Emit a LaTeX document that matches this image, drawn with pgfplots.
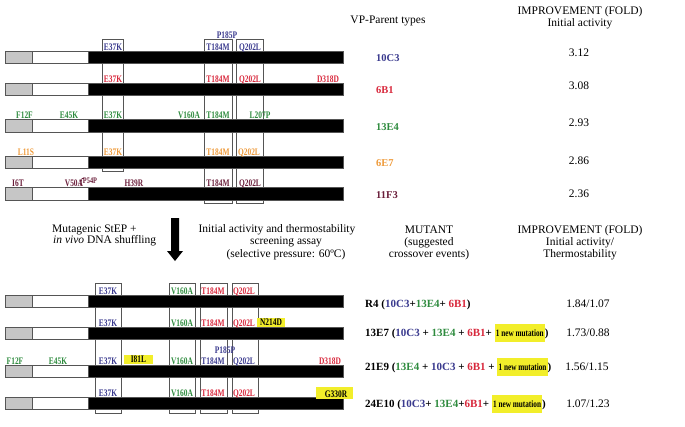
\documentclass[border=0pt]{standalone}
\usepackage{pgfplots}
\pgfplotsset{compat=1.18}
\usepackage{fontspec}
\setmainfont{Liberation Serif}
\definecolor{cblue}{HTML}{3A3A8E}
\definecolor{cred}{HTML}{D8283C}
\definecolor{cgreen}{HTML}{2E8B3E}
\definecolor{corange}{HTML}{EE9A3A}
\definecolor{cmaroon}{HTML}{6A1E3A}
\definecolor{hl}{HTML}{F2EE2A}
\definecolor{edge}{HTML}{555555}
% gene bar: #1 top, #2 bottom
\newcommand\gene[2]{%
 \addplot[fill=gray!45, draw=edge, line width=0.9pt] coordinates {(5,#1)(32,#1)(32,#2)(5,#2)} -- cycle;
 \addplot[fill=white, draw=edge, line width=0.9pt] coordinates {(32,#1)(88,#1)(88,#2)(32,#2)} -- cycle;
 \addplot[fill=black, draw=edge, line width=0.9pt] coordinates {(88,#1)(343,#1)(343,#2)(88,#2)} -- cycle;}
% selection box: x1 x2 y1 y2
\newcommand\selbox[4]{%
 \addplot[draw=edge, line width=0.8pt] coordinates {(#1,#3)(#2,#3)(#2,#4)(#1,#4)} -- cycle;}
\newcommand\hlbox[4]{%
 \addplot[fill=hl, draw=none] coordinates {(#1,#3)(#2,#3)(#2,#4)(#1,#4)} -- cycle;}
\newcommand\gl[1]{\scalebox{0.93}[1.25]{#1}}
\tikzset{
 glab/.style={anchor=base, inner sep=0pt, font=\fontsize{8}{8}\selectfont\bfseries},
 txt/.style={anchor=base, inner sep=0pt, font=\fontsize{11.5}{12}\selectfont},
 pname/.style={anchor=base west, inner sep=0pt, font=\fontsize{10.5}{11}\selectfont\bfseries},
 mut/.style={anchor=base west, inner sep=0pt, font=\fontsize{11}{12}\selectfont\bfseries},
}
\newcommand\newmut{\colorbox{hl}{\rule[-5pt]{0pt}{16pt}\fontsize{7.8}{9}\selectfont\bfseries\gl{1 new mutation}}}
\setlength\fboxsep{1.2pt}
\begin{document}
\begin{tikzpicture}
\begin{axis}[width=685pt,height=426pt,scale only axis,
 xmin=0,xmax=685,ymin=0,ymax=426,y dir=reverse,
 hide axis,clip=false,no markers]
\addplot[draw=none] coordinates {(0,0)(685,426)};
% ---------- top: parent types ----------
\selbox{102}{123}{39}{171}
\selbox{204}{232}{39}{203}
\selbox{236}{263}{39}{203}
\gene{51}{63}
\gene{83}{95}
\gene{119}{132}
\gene{156}{168}
\gene{187}{200}
% row 1 (10C3)
\node[glab,text=cblue] at (axis cs:113,50) {\gl{E37K}};
\node[glab,text=cblue] at (axis cs:218,50) {\gl{T184M}};
\node[glab,text=cblue] at (axis cs:250,50) {\gl{Q202L}};
\node[glab,text=cblue] at (axis cs:227,38.5) {\gl{P185P}};
% row 2 (6B1)
\node[glab,text=cred] at (axis cs:113,82) {\gl{E37K}};
\node[glab,text=cred] at (axis cs:218,82) {\gl{T184M}};
\node[glab,text=cred] at (axis cs:250,82) {\gl{Q202L}};
\node[glab,text=cred] at (axis cs:328,82) {\gl{D318D}};
% row 3 (13E4)
\node[glab,text=cgreen] at (axis cs:24.5,118) {\gl{F12F}};
\node[glab,text=cgreen] at (axis cs:69,118) {\gl{E45K}};
\node[glab,text=cgreen] at (axis cs:113,118) {\gl{E37K}};
\node[glab,text=cgreen] at (axis cs:189,118) {\gl{V160A}};
\node[glab,text=cgreen] at (axis cs:218,118) {\gl{T184M}};
\node[glab,text=cgreen] at (axis cs:260,118) {\gl{L207P}};
% row 4 (6E7)
\node[glab,text=corange] at (axis cs:26,155) {\gl{L11S}};
\node[glab,text=corange] at (axis cs:113,155) {\gl{E37K}};
\node[glab,text=corange] at (axis cs:218,155) {\gl{T184M}};
\node[glab,text=corange] at (axis cs:249,155) {\gl{Q202L}};
% row 5 (11F3)
\node[glab,text=cmaroon] at (axis cs:18,186) {\gl{I6T}};
\node[glab,text=cmaroon] at (axis cs:74,186) {\gl{V50A}};
\addplot[draw=cmaroon, line width=0.6pt] coordinates {(80,186)(82,178.5)(84,178.5)};
\node[glab,text=cmaroon,font=\fontsize{6.8}{7}\selectfont\bfseries] at (axis cs:90,183) {\gl{P54P}};
\node[glab,text=cmaroon] at (axis cs:134,186) {\gl{H39R}};
\node[glab,text=cmaroon] at (axis cs:218,186) {\gl{T184M}};
\node[glab,text=cmaroon] at (axis cs:250,186) {\gl{Q202L}};
% headers right top
\node[txt] at (axis cs:388,23) {VP-Parent types};
\node[txt] at (axis cs:580,14) {IMPROVEMENT (FOLD)};
\node[txt] at (axis cs:580,26) {Initial activity};
\node[pname,text=cblue] at (axis cs:376,61) {10C3};
\node[pname,text=cred] at (axis cs:376,93) {6B1};
\node[pname,text=cgreen] at (axis cs:376,130) {13E4};
\node[pname,text=corange] at (axis cs:376,166) {6E7};
\node[pname,text=cmaroon] at (axis cs:376,198) {11F3};
\node[txt] at (axis cs:579,56.5) {3.12};
\node[txt] at (axis cs:579,89) {3.08};
\node[txt] at (axis cs:579,126) {2.93};
\node[txt] at (axis cs:579,164) {2.86};
\node[txt] at (axis cs:579,197.5) {2.36};
% ---------- middle ----------
\addplot[fill=black, draw=none] coordinates {(171,218)(179,218)(179,251)(183,251)(175,261)(167,251)(171,251)} -- cycle;
\node[txt,anchor=base west] at (axis cs:52,232) {Mutagenic StEP +};
\node[txt,anchor=base west] at (axis cs:53,243.5) {\textit{in vivo} DNA shuffling};
\node[txt] at (axis cs:277,232) {Initial activity and thermostability};
\node[txt] at (axis cs:286,244.5) {screening assay};
\node[txt] at (axis cs:286,257) {(selective pressure: 60ºC)};
\node[txt] at (axis cs:429,233) {MUTANT};
\node[txt] at (axis cs:429,245.5) {(suggested};
\node[txt] at (axis cs:429,257.5) {crossover events)};
\node[txt] at (axis cs:580,233) {IMPROVEMENT (FOLD)};
\node[txt] at (axis cs:580,245.5) {Initial activity/};
\node[txt] at (axis cs:580,257.5) {Thermostability};
% ---------- bottom: mutants ----------
\selbox{95}{121}{283}{413}
\selbox{169}{195}{283}{413}
\selbox{200}{227}{283}{413}
\selbox{232}{258}{283}{413}
\gene{295}{307}
\gene{327}{339}
\gene{365}{377}
\gene{397}{409}
\hlbox{257}{285}{318}{327}
\hlbox{124}{153}{355}{363.5}
\hlbox{316}{353}{387}{398.5}
% R4
\node[glab,text=cblue] at (axis cs:108,294) {\gl{E37K}};
\node[glab,text=cgreen] at (axis cs:182,294) {\gl{V160A}};
\node[glab,text=cred] at (axis cs:213,294) {\gl{T184M}};
\node[glab,text=cred] at (axis cs:244,294) {\gl{Q202L}};
% 13E7
\node[glab,text=cblue] at (axis cs:108,326) {\gl{E37K}};
\node[glab,text=cgreen] at (axis cs:182,326) {\gl{V160A}};
\node[glab,text=cred] at (axis cs:213,326) {\gl{T184M}};
\node[glab,text=cred] at (axis cs:244,326) {\gl{Q202L}};
\node[glab] at (axis cs:271,325.5) {\gl{N214D}};
% 21E9
\node[glab,text=cgreen] at (axis cs:15,364) {\gl{F12F}};
\node[glab,text=cgreen] at (axis cs:58,364) {\gl{E45K}};
\node[glab,text=cblue] at (axis cs:108,364) {\gl{E37K}};
\node[glab] at (axis cs:138.5,362.5) {\gl{I81L}};
\node[glab,text=cgreen] at (axis cs:182,364) {\gl{V160A}};
\node[glab,text=cblue] at (axis cs:213,364) {\gl{T184M}};
\node[glab,text=cblue] at (axis cs:244,364) {\gl{Q202L}};
\node[glab,text=cblue] at (axis cs:225,353) {\gl{P185P}};
\node[glab,text=cred] at (axis cs:330,364) {\gl{D318D}};
% 24E10
\node[glab,text=cblue] at (axis cs:108,396) {\gl{E37K}};
\node[glab,text=cgreen] at (axis cs:182,396) {\gl{V160A}};
\node[glab,text=cred] at (axis cs:213,396) {\gl{T184M}};
\node[glab,text=cred] at (axis cs:244,396) {\gl{Q202L}};
\node[glab] at (axis cs:336,397.5) {\gl{G330R}};
% mutant descriptions
\node[mut] at (axis cs:365,307) {R4 (\textcolor{cblue}{10C3}+\textcolor{cgreen}{13E4}+ \textcolor{cred}{6B1})};
\node[mut] at (axis cs:365,336) {13E7 (\textcolor{cblue}{10C3} + \textcolor{cgreen}{13E4} + \textcolor{cred}{6B1}+ \newmut)};
\node[mut] at (axis cs:365,370) {21E9 (\textcolor{cgreen}{13E4} + \textcolor{cblue}{10C3} + \textcolor{cred}{6B1} + \newmut)};
\node[mut] at (axis cs:365,407) {24E10 (\textcolor{cblue}{10C3}+ \textcolor{cgreen}{13E4}+\textcolor{cred}{6B1}+ \newmut)};
\node[txt] at (axis cs:588,307) {1.84/1.07};
\node[txt] at (axis cs:588,336) {1.73/0.88};
\node[txt] at (axis cs:587,370) {1.56/1.15};
\node[txt] at (axis cs:588,407) {1.07/1.23};
\end{axis}
\end{tikzpicture}
\end{document}
